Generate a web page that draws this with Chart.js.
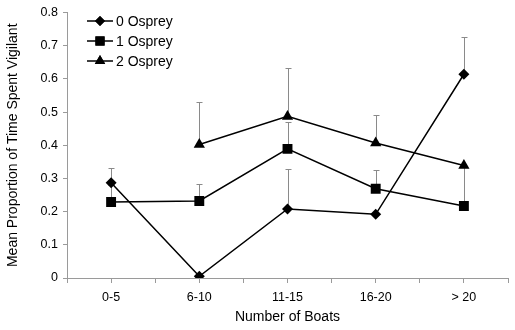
<!DOCTYPE html>
<html>
<head>
<meta charset="utf-8">
<script src="https://cdn.jsdelivr.net/npm/chart.js@4/dist/chart.umd.min.js"></script>
<style>
  html, body { margin: 0; padding: 0; background: #fff; }
  #wrap { width: 515px; height: 330px; position: relative; }
</style>
</head>
<body>
<div id="wrap"><canvas id="chart"></canvas></div>
<script>
// ===== data =====
const boatLabels = ['0-5', '6-10', '11-15', '16-20', '> 20']
const yTicks = [0, 0.1, 0.2, 0.3, 0.4, 0.5, 0.6, 0.7, 0.8]

const osprey0 = [0.287, 0.005, 0.208, 0.192, 0.614]
const osprey0Err = [0.332, null, 0.328, null, 0.726]

const osprey1 = [0.229, 0.232, 0.389, 0.269, 0.217]
const osprey1Err = [0.28, 0.284, 0.47, 0.325, 0.335]

const osprey2 = [null, 0.402, 0.487, 0.407, 0.339]
const osprey2Err = [null, 0.531, 0.633, 0.49, null]

const FONT = 'Arial, "Liberation Sans", sans-serif'

function pts(arr) {
  return arr.map((v, i) => ({ x: i + 1, y: v }))
}

const series = [
  { label: '0 Osprey', values: osprey0, err: osprey0Err, style: 'rectRot', r: 5.5 },
  { label: '1 Osprey', values: osprey1, err: osprey1Err, style: 'rect', r: 7 },
  { label: '2 Osprey', values: osprey2, err: osprey2Err, style: 'triangle', r: 6.5 },
]

// upper error bars, drawn under the lines
const errorBars = {
  id: 'errorBars',
  beforeDatasetsDraw(chart) {
    const { ctx, scales: { x, y } } = chart
    ctx.save()
    ctx.strokeStyle = '#8a8a8a'
    ctx.lineWidth = 1
    series.forEach(s => {
      s.err.forEach((e, i) => {
        if (e == null || s.values[i] == null) return
        const px = Math.round(x.getPixelForValue(i + 1)) + 0.5
        const y0 = y.getPixelForValue(s.values[i])
        const y1 = Math.round(y.getPixelForValue(e)) + 0.5
        ctx.beginPath()
        ctx.moveTo(px, y0)
        ctx.lineTo(px, y1)
        ctx.moveTo(px - 3, y1)
        ctx.lineTo(px + 3, y1)
        ctx.stroke()
      })
    })
    ctx.restore()
  }
}

// legend with line + marker, placed inside the plot
const lineLegend = {
  id: 'lineLegend',
  afterDraw(chart) {
    const { ctx } = chart
    ctx.save()
    ctx.font = '14px ' + FONT
    ctx.textBaseline = 'middle'
    series.forEach((s, i) => {
      const yy = 21 + i * 20
      ctx.strokeStyle = '#000'
      ctx.lineWidth = 1.5
      ctx.beginPath()
      ctx.moveTo(87, yy)
      ctx.lineTo(113, yy)
      ctx.stroke()
      ctx.fillStyle = '#000'
      Chart.helpers.drawPoint(ctx, { pointStyle: s.style, radius: s.r - 0.5, rotation: 0, borderWidth: 0 }, 100, yy)
      ctx.fill()
      ctx.fillStyle = '#000'
      ctx.fillText(s.label, 116, yy + 1)
    })
    ctx.restore()
  }
}

new Chart(document.getElementById('chart'), {
  type: 'line',
  data: {
    datasets: series.map(s => ({
      label: s.label,
      data: pts(s.values),
      borderColor: '#000',
      backgroundColor: '#000',
      borderWidth: 1.5,
      pointStyle: s.style,
      pointRadius: s.r,
      pointBorderWidth: 0,
      pointBackgroundColor: '#000',
      tension: 0,
      spanGaps: false,
    }))
  },
  options: {
    responsive: true,
    maintainAspectRatio: false,
    animation: false,
    layout: { padding: { top: 10, right: 0, left: 0, bottom: 0 } },
    plugins: { legend: { display: false }, tooltip: { enabled: false } },
    scales: {
      x: {
        type: 'linear',
        min: 0.5,
        max: 5.5,
        afterBuildTicks: axis => {
          axis.ticks = []
          for (let v = 0.5; v <= 5.5; v += 0.5) axis.ticks.push({ value: v })
        },
        afterFit: axis => { axis.height = 52 },
        grid: { drawOnChartArea: false, tickLength: 5, color: '#9a9a9a' },
        border: { color: '#9a9a9a', width: 1 },
        ticks: {
          color: '#000',
          font: { family: FONT, size: 12.5 },
          padding: 7,
          maxRotation: 0,
          autoSkip: false,
          callback: v => Number.isInteger(v) ? boatLabels[v - 1] : ''
        },
        title: {
          display: true,
          text: 'Number of Boats',
          color: '#000',
          font: { family: FONT, size: 14 },
          padding: { top: 8 }
        }
      },
      y: {
        min: 0,
        max: 0.8,
        afterBuildTicks: axis => { axis.ticks = yTicks.map(v => ({ value: v })) },
        afterFit: axis => { axis.width = 67 },
        grid: { drawOnChartArea: false, tickLength: 4, color: '#9a9a9a' },
        border: { color: '#9a9a9a', width: 1 },
        ticks: {
          color: '#000',
          font: { family: FONT, size: 12.5 },
          padding: 5,
          callback: v => String(v)
        },
        title: {
          display: true,
          text: 'Mean Proportion of Time Spent Vigilant',
          color: '#000',
          font: { family: FONT, size: 14 },
          padding: { bottom: 0, top: 5 }
        }
      }
    }
  },
  plugins: [errorBars, lineLegend]
})
</script>
</body>
</html>
